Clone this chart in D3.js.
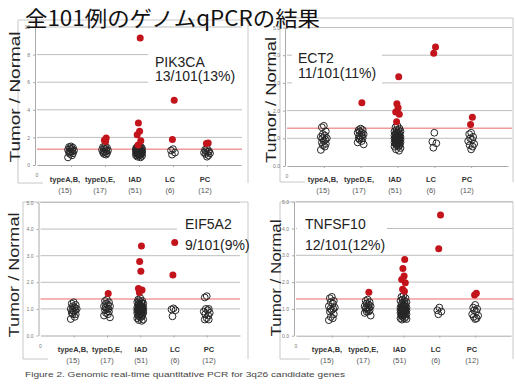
<!DOCTYPE html>
<html>
<head>
<meta charset="utf-8">
<script src="https://cdn.jsdelivr.net/npm/d3@7"></script>
<style>
  body { margin: 0; background: #fff; }
  svg { display: block; font-family: "Liberation Sans", Arial, sans-serif; }
</style>
</head>
<body>
<svg id="chart" width="515" height="387"></svg>
<script>
const title = "全101例のゲノムqPCRの結果"
const caption = "Figure 2. Genomic real-time quantitative PCR for 3q26 candidate genes"
const categories = ["typeA,B,", "typeD,E,", "IAD", "LC", "PC"]
const counts = ["(15)", "(17)", "(51)", "(6)", "(12)"]
const genes = ["PIK3CA", "ECT2", "EIF5A2", "TNFSF10"]
const rates = ["13/101(13%)", "11/101(11%)", "9/101(9%)", "12/101(12%)"]
const yMax = [10, 5, 5, 5]
const yStep = [2, 1, 1, 1]
const thresholds = [1.15, 1.36, 1.37, 1.37]

// values above the cut-off (red) and the rest (open), one list per category
const pik3caRed = [[], [1.95, 1.8, 1.7], [9.2, 3.05, 2.45, 2.2, 1.75, 1.45], [4.7, 1.85], [1.6, 1.55]]
const pik3caOpen = [
  [1.35, 1.3, 1.25, 1.2, 1.15, 1.1, 1.05, 1.0, 1.0, 0.95, 0.9, 0.85, 0.8, 0.7, 0.55],
  [1.35, 1.3, 1.25, 1.2, 1.15, 1.1, 1.05, 1.0, 1.0, 0.95, 0.9, 0.85, 0.8, 0.75],
  [1.35, 1.3, 1.3, 1.25, 1.25, 1.2, 1.2, 1.2, 1.15, 1.15, 1.15, 1.1, 1.1, 1.1, 1.1, 1.05, 1.05, 1.05, 1.05,
   1.0, 1.0, 1.0, 1.0, 1.0, 0.95, 0.95, 0.95, 0.95, 0.9, 0.9, 0.9, 0.9, 0.85, 0.85, 0.85, 0.8, 0.8, 0.8,
   0.75, 0.75, 0.7, 0.7, 0.65, 0.6, 0.55],
  [1.15, 1.05, 0.9, 0.75],
  [1.2, 1.1, 1.0, 1.0, 0.95, 0.9, 0.85, 0.8, 0.7, 0.6]
]

const ect2Red = [[], [2.28], [3.22, 2.25, 2.1, 1.95, 1.87, 1.6], [4.3, 4.07], [1.76, 1.5]]
const ect2Open = [
  [1.45, 1.4, 1.25, 1.15, 1.1, 1.05, 1.0, 1.0, 0.95, 0.9, 0.85, 0.8, 0.75, 0.7, 0.58],
  [1.35, 1.3, 1.3, 1.25, 1.2, 1.2, 1.15, 1.1, 1.1, 1.05, 1.0, 1.0, 0.95, 0.9, 0.85, 0.78],
  [1.45, 1.4, 1.35, 1.3, 1.3, 1.25, 1.25, 1.2, 1.2, 1.2, 1.15, 1.15, 1.1, 1.1, 1.1, 1.05, 1.05, 1.05, 1.05,
   1.0, 1.0, 1.0, 1.0, 1.0, 0.95, 0.95, 0.95, 0.95, 0.9, 0.9, 0.9, 0.9, 0.85, 0.85, 0.85, 0.8, 0.8, 0.8,
   0.75, 0.75, 0.7, 0.7, 0.65, 0.6, 0.55],
  [1.2, 0.88, 0.82, 0.66],
  [1.2, 1.15, 1.05, 1.0, 0.95, 0.9, 0.8, 0.75, 0.7, 0.6]
]

const eif5a2Red = [[], [1.58], [3.36, 2.78, 2.42, 1.77, 1.71, 1.62], [3.5, 2.27], []]
const eif5a2Open = [
  [1.25, 1.2, 1.15, 1.1, 1.05, 1.0, 1.0, 0.95, 0.95, 0.9, 0.85, 0.8, 0.8, 0.7, 0.62],
  [1.35, 1.3, 1.25, 1.2, 1.15, 1.1, 1.1, 1.05, 1.0, 1.0, 0.95, 0.9, 0.85, 0.8, 0.75, 0.68],
  [1.4, 1.35, 1.3, 1.3, 1.25, 1.25, 1.2, 1.2, 1.2, 1.15, 1.15, 1.1, 1.1, 1.1, 1.05, 1.05, 1.05, 1.05,
   1.0, 1.0, 1.0, 1.0, 1.0, 0.95, 0.95, 0.95, 0.95, 0.9, 0.9, 0.9, 0.9, 0.85, 0.85, 0.85, 0.8, 0.8, 0.8,
   0.75, 0.75, 0.7, 0.7, 0.65, 0.6, 0.58, 0.55],
  [1.02, 0.98, 0.95, 0.72],
  [1.48, 1.43, 1.0, 1.0, 0.95, 0.9, 0.85, 0.8, 0.75, 0.65, 0.6, 0.6]
]

const tnfsf10Red = [[], [1.62], [2.84, 2.51, 2.23, 2.1, 1.98, 1.73, 1.66], [4.5, 3.24], [1.58, 1.52]]
const tnfsf10Open = [
  [1.45, 1.4, 1.3, 1.25, 1.2, 1.1, 1.05, 1.0, 1.0, 0.95, 0.9, 0.8, 0.7, 0.65, 0.58],
  [1.35, 1.3, 1.25, 1.2, 1.15, 1.1, 1.1, 1.05, 1.05, 1.0, 1.0, 0.95, 0.9, 0.9, 0.85, 0.75],
  [1.5, 1.45, 1.4, 1.35, 1.3, 1.3, 1.25, 1.2, 1.2, 1.15, 1.15, 1.1, 1.1, 1.1, 1.05, 1.05, 1.05,
   1.0, 1.0, 1.0, 1.0, 1.0, 0.95, 0.95, 0.95, 0.95, 0.9, 0.9, 0.9, 0.9, 0.85, 0.85, 0.85, 0.8, 0.8, 0.8,
   0.75, 0.75, 0.7, 0.7, 0.65, 0.65, 0.62, 0.6],
  [1.05, 0.95, 0.9, 0.8],
  [1.15, 1.05, 1.0, 0.95, 0.9, 0.8, 0.75, 0.7, 0.65, 0.62]
]

const redSets = [pik3caRed, ect2Red, eif5a2Red, tnfsf10Red]
const openSets = [pik3caOpen, ect2Open, eif5a2Open, tnfsf10Open]

// where each of the four pasted charts sits on the slide
const layout = [
  {left: 37, right: 241, gridRight: 242, bottom: 165, top: 27, frame: [18, 20, 248, 183], cut: 25,
   lab: [65, 205], labY: 182, yl: [15, 97, 131], box: [148, 44, 246, 92], txt: [155, 67, 81]},
  {left: 287, right: 508, gridRight: 512, bottom: 166, top: 27.5, frame: [280, 18, 513, 182], cut: 25,
   lab: [323, 467], labY: 182, yl: [271, 100, 126], box: [292, 42, 382, 90], txt: [298, 63, 78]},
  {left: 40.5, right: 240, gridRight: 240, bottom: 335.5, top: 202.5, frame: [23, 202, 248, 359], cut: 25,
   lab: [73, 209], labY: 352, yl: [14, 275, 125], box: [177, 210, 244, 235], txt: [185, 229, 250]},
  {left: 296, right: 511, gridRight: 513, bottom: 335.7, top: 201.7, frame: [280, 202, 513, 359], cut: 30,
   lab: [327, 472], labY: 352, yl: [276, 278, 117], box: [297, 210, 387, 235], txt: [305, 229, 250]}
]

const jitter = [0, -2, 2, -1, 1, -3, 3, -1.5, 1.5]

const svg = d3.select("#chart")

function panel(p, i) {
  const g = svg.append("g")
  const x = d3.scaleLinear().domain([0, 6]).range([p.left, p.right])
  const y = d3.scaleLinear().domain([0, yMax[i]]).range([p.bottom, p.top])
  const lx = d3.scalePoint().domain(categories).range(p.lab)
  const f = p.frame

  g.append("path")
    .attr("d", `M${f[0] + p.cut},${f[3]}H${f[0]}V${f[1]}H${f[2]}V${f[3]}`)
    .attr("fill", "none").attr("stroke", "#c8c8c8").attr("stroke-width", 1)

  const ticks = d3.range(yStep[i], yMax[i] + 0.001, yStep[i])
  g.append("g").selectAll("line").data(ticks).join("line")
    .attr("x1", p.left).attr("x2", p.gridRight)
    .attr("y1", d => y(d)).attr("y2", d => y(d))
    .attr("stroke", "#bdbdbd").attr("stroke-width", 1)

  // white label box hides the grid behind the gene name
  g.append("rect")
    .attr("x", p.box[0]).attr("y", p.box[1])
    .attr("width", p.box[2] - p.box[0]).attr("height", p.box[3] - p.box[1])
    .attr("fill", "#fff")

  g.append("line")
    .attr("x1", p.left).attr("x2", p.gridRight)
    .attr("y1", y(thresholds[i])).attr("y2", y(thresholds[i]))
    .attr("stroke", "#f29a9a").attr("stroke-width", 1.5)

  g.append("g")
    .attr("transform", `translate(${p.left - 2},0)`)
    .call(d3.axisLeft(y).tickValues(d3.range(0, yMax[i] + 0.001, yStep[i])).tickSize(2).tickSizeOuter(0).tickPadding(3))
    .call(a => a.select(".domain").attr("stroke", "#aaa"))
    .call(a => a.selectAll(".tick line").attr("stroke", "#aaa"))
    .call(a => a.selectAll("text").attr("font-size", 5).attr("fill", "#777"))

  g.append("g")
    .attr("transform", `translate(0,${p.bottom})`)
    .call(d3.axisBottom(x).tickValues([1, 2, 3, 4, 5]).tickSize(2).tickSizeOuter(0).tickFormat(""))
    .call(a => a.select(".domain").attr("stroke", "#aaa"))
    .call(a => a.selectAll(".tick line").attr("stroke", "#aaa"))

  g.append("text")
    .attr("x", x(0)).attr("y", p.bottom + 12)
    .attr("font-size", 5).attr("fill", "#777").attr("text-anchor", "middle")
    .text("0")

  const opens = openSets[i].flatMap((vals, c) => vals.map((v, k) => ({c, v, k})))
  const reds = redSets[i].flatMap((vals, c) => vals.map((v, k) => ({c, v, k})))

  g.append("g").selectAll("circle").data(opens).join("circle")
    .attr("cx", d => x(d.c + 1) + jitter[d.k % jitter.length])
    .attr("cy", d => y(d.v))
    .attr("r", 3.4)
    .attr("fill", "none").attr("stroke", "#262626").attr("stroke-width", 1)

  g.append("g").selectAll("circle").data(reds).join("circle")
    .attr("cx", d => x(d.c + 1) + jitter[(d.k + 2) % jitter.length] * 0.6)
    .attr("cy", d => y(d.v))
    .attr("r", 3.5)
    .attr("fill", "#c3141c")

  g.append("g").selectAll("text").data(categories).join("text")
    .attr("x", d => lx(d)).attr("y", p.labY)
    .attr("text-anchor", "middle").attr("font-size", 7.5).attr("font-weight", "bold").attr("fill", "#333")
    .text(d => d)

  g.append("g").selectAll("text").data(counts).join("text")
    .attr("x", (d, j) => lx(categories[j])).attr("y", p.labY + 11)
    .attr("text-anchor", "middle").attr("font-size", 7.5).attr("fill", "#555")
    .text(d => d)

  g.append("text")
    .attr("transform", `translate(${p.yl[0] + 5},${p.yl[1]}) rotate(-90)`)
    .attr("text-anchor", "middle").attr("font-size", 15).attr("fill", "#222")
    .attr("textLength", p.yl[2]).attr("lengthAdjust", "spacingAndGlyphs")
    .text("Tumor / Normal")

  g.append("text").attr("x", p.txt[0]).attr("y", p.txt[1])
    .attr("font-size", 14).attr("fill", "#222").text(genes[i])
  g.append("text").attr("x", p.txt[0]).attr("y", p.txt[2])
    .attr("font-size", 14).attr("fill", "#222").text(rates[i])
}

layout.forEach(panel)

svg.append("text")
  .attr("x", 25).attr("y", 26)
  .attr("font-family", "'Noto Sans CJK JP', sans-serif").attr("font-size", 21).attr("fill", "#111")
  .attr("textLength", 295).attr("lengthAdjust", "spacingAndGlyphs")
  .text(title)

svg.append("text")
  .attr("x", 25).attr("y", 377)
  .attr("font-size", 8).attr("fill", "#444")
  .attr("textLength", 320).attr("lengthAdjust", "spacingAndGlyphs")
  .text(caption)
</script>
</body>
</html>
